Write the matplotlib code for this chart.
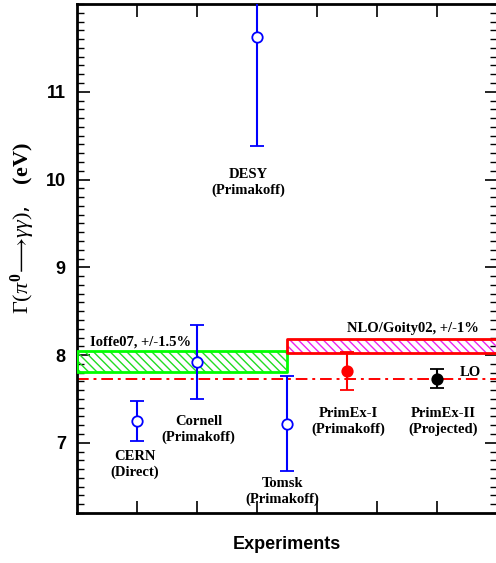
import matplotlib
matplotlib.use("Agg")
import matplotlib.pyplot as plt
from matplotlib.ticker import MultipleLocator, FixedLocator, NullFormatter

plt.rcParams['mathtext.fontset'] = 'custom'
plt.rcParams['mathtext.rm'] = 'Liberation Serif'
plt.rcParams['mathtext.it'] = 'Liberation Serif:italic'
plt.rcParams['mathtext.bf'] = 'Liberation Serif:bold'
plt.rcParams['hatch.linewidth'] = 1.0

# Measurements of the pi0 -> gamma gamma decay width (eV)
exp_names = ["CERN\n(Direct)", "Cornell\n(Primakoff)", "DESY\n(Primakoff)",
             "Tomsk\n(Primakoff)", "PrimEx-I\n(Primakoff)", "PrimEx-II\n(Projected)"]
exp_x = [1.0, 2.0, 3.0, 3.5, 4.5, 6.0]
exp_width = [7.25, 7.92, 11.62, 7.22, 7.82, 7.73]
exp_err = [0.23, 0.42, 1.24, 0.54, 0.22, 0.11]

# Theory predictions
lo_value = 7.725
ioffe_center, ioffe_frac = 7.93, 0.015
ioffe_span = [0.0, 3.5]
goity_center, goity_frac = 8.10, 0.01
goity_span = [3.5, 7.0]

y_ticks = [7, 8, 9, 10, 11]

fig = plt.figure(figsize=(4.96, 5.63), dpi=100)
ax = fig.add_axes([0.155, 0.0888, 0.847, 0.904])

serif_bold = dict(family='Liberation Serif', fontweight='bold', fontsize=10.5)

# Ioffe07 band
lo_i, hi_i = ioffe_center * (1 - ioffe_frac), ioffe_center * (1 + ioffe_frac)
ax.fill_between(ioffe_span, lo_i, hi_i, facecolor='none', edgecolor='#22dd22',
                hatch='\\\\\\\\', linewidth=0, zorder=2)
ax.fill_between(ioffe_span, lo_i, hi_i, facecolor='none', edgecolor='#00ff00',
                linewidth=2, zorder=3)

# NLO/Goity02 band
lo_g, hi_g = goity_center * (1 - goity_frac), goity_center * (1 + goity_frac)
ax.fill_between(goity_span, lo_g, hi_g, facecolor='none', edgecolor='#ee22ee',
                hatch='\\\\\\\\', linewidth=0, zorder=2)
ax.fill_between(goity_span, lo_g, hi_g, facecolor='none', edgecolor='#ff0000',
                linewidth=2, zorder=3)

# Leading-order chiral anomaly prediction
ax.axhline(lo_value, color='red', linestyle=(0, (6, 2.5, 1.5, 2.5)), linewidth=1.4, zorder=2)

# Experimental points
styles = [('blue', 'white'), ('blue', 'white'), ('blue', 'white'), ('blue', 'white'),
          ('red', 'red'), ('black', 'black')]
for x, y, e, (c, fc) in zip(exp_x, exp_width, exp_err, styles):
    ax.errorbar(x, y, yerr=e, fmt='o', color=c, mfc=fc, mec=c, ms=7.5, mew=1.3,
                elinewidth=1.5, capsize=5, capthick=1.5, zorder=5)

# Experiment labels
label_pos = [(0.96, 6.75), (2.03, 7.15), (2.85, 9.97), (3.42, 6.45), (4.52, 7.24), (6.1, 7.24)]
for name, (lx, ly) in zip(exp_names, label_pos):
    ax.text(lx, ly, name, ha='center', va='center', linespacing=1.25, **serif_bold)

ax.text(0.22, 8.15, "Ioffe07, +/-1.5%", ha='left', va='center', **serif_bold)
ax.text(5.6, 8.30, "NLO/Goity02, +/-1%", ha='center', va='center', **serif_bold)
ax.text(6.56, 7.80, "LO", ha='center', va='center', **serif_bold)

ax.set_xlim(0, 7)
ax.set_ylim(6.2, 12.0)
ax.xaxis.set_major_locator(FixedLocator([1, 2, 3, 4, 5, 6]))
ax.xaxis.set_major_formatter(NullFormatter())
ax.yaxis.set_major_locator(FixedLocator(y_ticks))
ax.yaxis.set_minor_locator(MultipleLocator(0.1))

ax.tick_params(axis='both', which='major', direction='in', length=9, width=1.2,
               top=True, right=True)
ax.tick_params(axis='y', which='minor', direction='in', length=5, width=1.0, right=True)
ax.tick_params(axis='y', which='major', pad=8)
for lab in ax.get_yticklabels():
    lab.set_fontfamily('Liberation Sans')
    lab.set_fontweight('bold')
    lab.set_fontsize(13)
for s in ax.spines.values():
    s.set_linewidth(2)

ax.set_xlabel("Experiments", family='Liberation Sans', fontweight='bold', fontsize=13,
              labelpad=13)
ax.set_ylabel(r"$\Gamma(\pi^{\mathbf{0}}\!\longrightarrow\!\gamma\gamma)$,   $\mathbf{(eV)}$",
              fontsize=16)
ax.yaxis.set_label_coords(-0.095, 0.56)

fig.savefig("out.png", dpi=100)
